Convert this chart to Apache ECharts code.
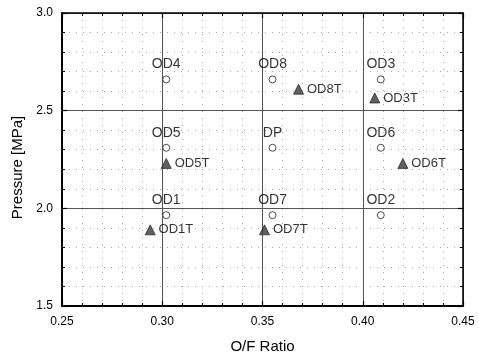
<!DOCTYPE html>
<html>
<head>
<meta charset="utf-8">
<script src="https://cdn.jsdelivr.net/npm/echarts@6/dist/echarts.min.js"></script>
<style>
  html, body { margin: 0; padding: 0; background: #fff; }
  #chart { width: 479px; height: 359px; }
</style>
</head>
<body>
<div id="chart"></div>
<script>
// design points (open circles)
var circleNames = ['OD4', 'OD8', 'OD3', 'OD5', 'DP', 'OD6', 'OD1', 'OD7', 'OD2']
var circleX = [0.302, 0.355, 0.409, 0.302, 0.355, 0.409, 0.302, 0.355, 0.409]
var circleY = [2.66, 2.66, 2.66, 2.31, 2.31, 2.31, 1.965, 1.965, 1.965]
// test points (triangles)
var triNames = ['OD8T', 'OD3T', 'OD5T', 'OD6T', 'OD1T', 'OD7T']
var triX = [0.368, 0.406, 0.302, 0.420, 0.294, 0.351]
var triY = [2.61, 2.565, 2.23, 2.23, 1.89, 1.89]
// axis ticks
var xTicks = [0.25, 0.30, 0.35, 0.40, 0.45]
var yTicks = [1.5, 2.0, 2.5, 3.0]

var font = 'Liberation Sans, Arial, sans-serif'

function pts (xs, ys, names) {
  var out = []
  for (var i = 0; i < xs.length; i++) {
    out.push({ value: [xs[i], ys[i]], name: names[i] })
  }
  return out
}

var tickStyle = { inside: true, length: 5, lineStyle: { color: '#000', width: 1.2 } }
var minorTick = { show: true, splitNumber: 5, length: 3, lineStyle: { color: '#000', width: 1 } }

var myChart = echarts.init(document.getElementById('chart'))
var option = {
  animation: false,
  backgroundColor: '#fff',
  grid: { left: 62, right: 16, top: 13, bottom: 48 },
  xAxis: [{
    type: 'value',
    min: xTicks[0],
    max: xTicks[xTicks.length - 1],
    interval: 0.05,
    name: 'O/F Ratio',
    nameLocation: 'middle',
    nameGap: 33,
    nameTextStyle: { fontFamily: font, fontSize: 15, color: '#000' },
    axisLine: { lineStyle: { color: '#000', width: 2 } },
    axisTick: tickStyle,
    minorTick: minorTick,
    axisLabel: {
      margin: 10, fontFamily: font, fontSize: 12, color: '#000',
      formatter: function (v) { return v.toFixed(2) }
    },
    splitLine: { show: true, lineStyle: { color: '#555', width: 1 } },
    minorSplitLine: { show: true, lineStyle: { color: '#aaa', width: 1, type: [1, 6] } }
  }, {
    type: 'value',
    position: 'top',
    min: xTicks[0],
    max: xTicks[xTicks.length - 1],
    interval: 0.05,
    axisLine: { show: true, lineStyle: { color: '#000', width: 1.5 } },
    axisTick: tickStyle,
    minorTick: minorTick,
    axisLabel: { show: false },
    splitLine: { show: false }
  }],
  yAxis: [{
    type: 'value',
    min: yTicks[0],
    max: yTicks[yTicks.length - 1],
    interval: 0.5,
    name: 'Pressure [MPa]',
    nameLocation: 'middle',
    nameGap: 36,
    nameTextStyle: { fontFamily: font, fontSize: 15, color: '#000', padding: [0, 16, 0, 0] },
    axisLine: { show: true, lineStyle: { color: '#000', width: 2 } },
    axisTick: tickStyle,
    minorTick: minorTick,
    axisLabel: {
      margin: 9, fontFamily: font, fontSize: 12, color: '#000',
      formatter: function (v) { return v.toFixed(1) }
    },
    splitLine: { show: true, lineStyle: { color: '#555', width: 1 } },
    minorSplitLine: { show: true, lineStyle: { color: '#aaa', width: 1, type: [1, 6] } }
  }, {
    type: 'value',
    position: 'right',
    min: yTicks[0],
    max: yTicks[yTicks.length - 1],
    interval: 0.5,
    axisLine: { show: true, lineStyle: { color: '#000', width: 1.5 } },
    axisTick: tickStyle,
    minorTick: minorTick,
    axisLabel: { show: false },
    splitLine: { show: false }
  }],
  series: [{
    name: 'design',
    type: 'scatter',
    symbol: 'circle',
    symbolSize: 7,
    itemStyle: { color: '#fff', borderColor: '#222', borderWidth: 1 },
    label: {
      show: true,
      position: 'top',
      distance: 4,
      formatter: '{b}',
      fontFamily: font,
      fontSize: 14,
      color: '#000'
    },
    data: pts(circleX, circleY, circleNames)
  }, {
    name: 'test',
    type: 'scatter',
    symbol: 'triangle',
    symbolSize: 10,
    itemStyle: { color: '#3a3a3a', borderColor: '#111', borderWidth: 0.8 },
    label: {
      show: true,
      position: 'right',
      distance: 3,
      formatter: '{b}',
      fontFamily: font,
      fontSize: 13,
      color: '#000'
    },
    data: pts(triX, triY, triNames)
  }]
}
myChart.setOption(option)
</script>
</body>
</html>
